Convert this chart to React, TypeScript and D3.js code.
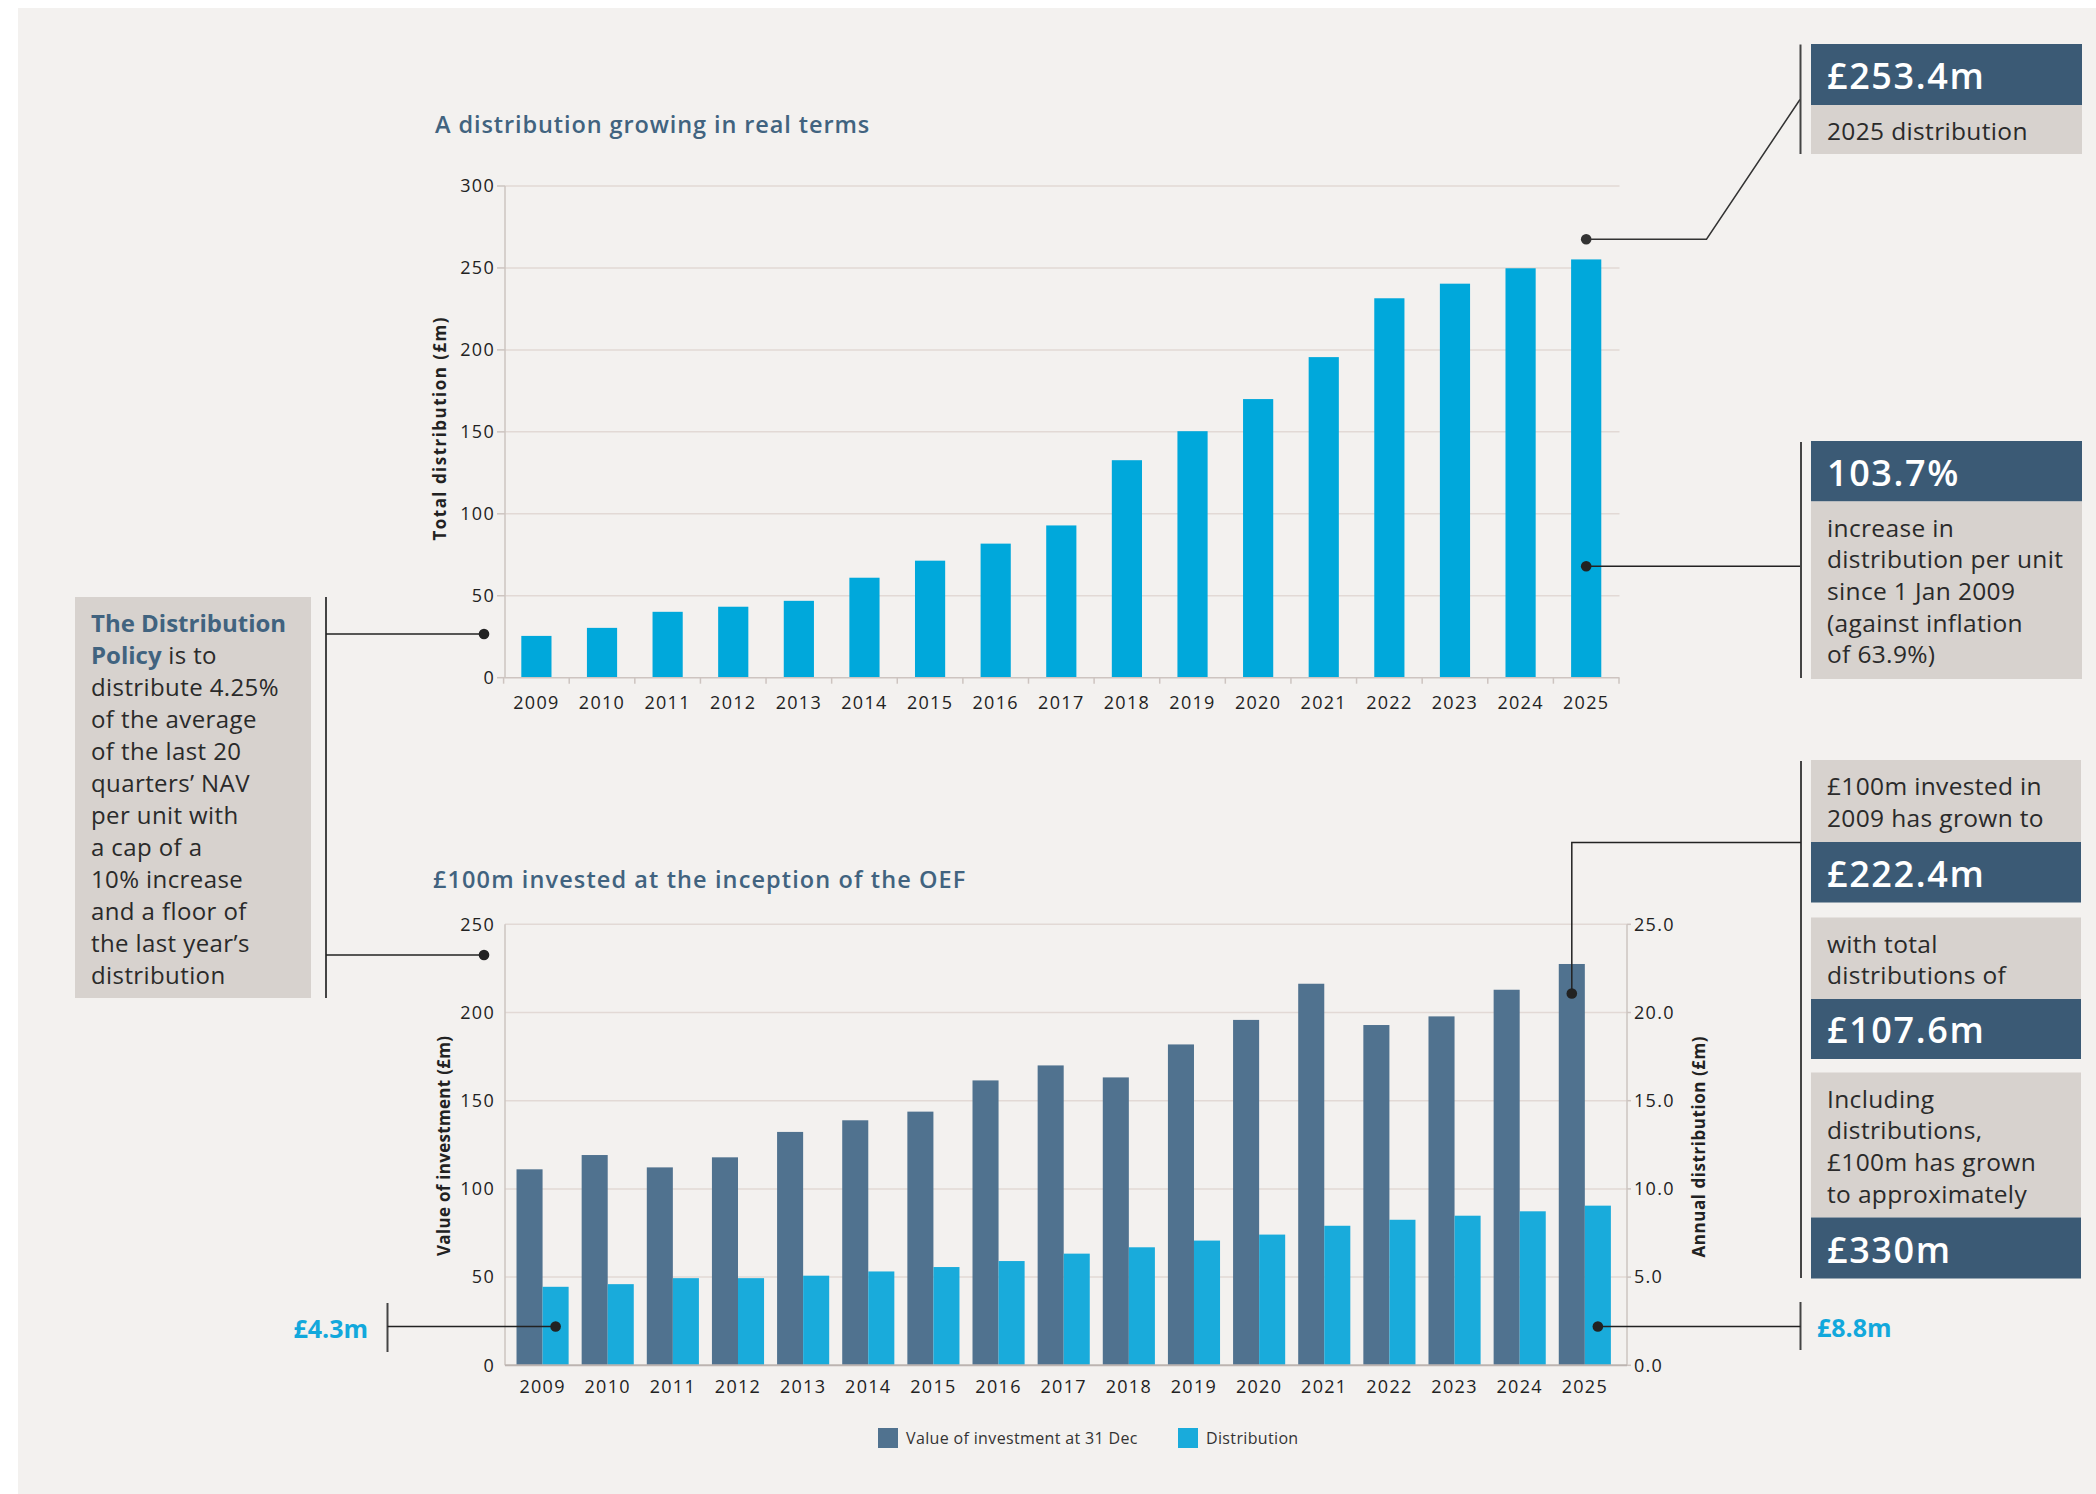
import React from 'react';
import * as d3 from 'd3';

const years = ['2009','2010','2011','2012','2013','2014','2015','2016','2017','2018','2019','2020','2021','2022','2023','2024','2025'];
const totalDistribution = [25.5, 30.4, 40.2, 43.3, 46.9, 61.0, 71.4, 81.8, 92.9, 132.7, 150.4, 170.0, 195.6, 231.5, 240.4, 249.8, 255.2];
const investmentValue = [111.1, 119.2, 112.2, 117.9, 132.3, 138.9, 143.8, 161.5, 170.0, 163.2, 181.9, 195.8, 216.3, 192.9, 197.8, 212.9, 227.5];
const annualDistribution = [4.45, 4.6, 4.94, 4.94, 5.08, 5.32, 5.57, 5.91, 6.33, 6.69, 7.07, 7.41, 7.91, 8.25, 8.48, 8.73, 9.05];
const topTicks = [0, 50, 100, 150, 200, 250, 300];
const leftTicks = [0, 50, 100, 150, 200, 250];
const rightTicks = [0, 5, 10, 15, 20, 25];
const seriesKeys = ['value', 'distribution'];
const legendLabels = ['Value of investment at 31 Dec', 'Distribution'];
const policyLines = ['distribute 4.25%', 'of the average', 'of the last 20', 'quarters\u2019 NAV', 'per unit with', 'a cap of a', '10% increase', 'and a floor of', 'the last year\u2019s', 'distribution'];

const FONT = '"Open Sans", "Noto Sans", sans-serif';
const C = {
  panel: '#f3f1ef',
  light: '#d7d2ce',
  dark: '#3b5a75',
  title: '#41637f',
  topBar: '#00a8db',
  darkBar: '#50728f',
  lightBar: '#19abdb',
  grid: '#e2d9d5',
  axis: '#cdc4c0',
  text: '#222222',
  accent: '#12a8dc',
  line: '#222222',
};

function Callout({ x, y, w, rows }: { x: number; y: number; w: number; rows: { kind: 'dark' | 'light'; h: number; lines: string[] }[] }) {
  let cy = y;
  return (
    <g>
      {rows.map((r, i) => {
        const top = cy;
        cy += r.h;
        const isDark = r.kind === 'dark';
        return (
          <g key={i}>
            <rect x={x} y={top} width={w} height={r.h} fill={isDark ? C.dark : C.light} />
            {r.lines.map((t, j) => (
              <text
                key={j}
                x={x + 16}
                y={isDark ? top + r.h - 16 : top + 35 + j * 31.7}
                fontFamily={FONT}
                fontSize={isDark ? 36 : 24.5}
                fontWeight={isDark ? 600 : 400}
                letterSpacing={isDark ? 1.6 : 0.35}
                fill={isDark ? '#ffffff' : '#2a2a2a'}
              >
                {t}
              </text>
            ))}
          </g>
        );
      })}
    </g>
  );
}

export default function App() {
  const xTop = d3.scaleBand<string>().domain(years).range([503.6, 1619]).paddingInner(0.54).paddingOuter(0.27);
  const yTop = d3.scaleLinear().domain([0, 300]).range([677.7, 186]);
  const topStep = xTop.step();
  const topBoundaries = years.map((yr) => (xTop(yr) as number) + xTop.bandwidth() / 2 - topStep / 2).concat([
    (xTop(years[years.length - 1]) as number) + xTop.bandwidth() / 2 + topStep / 2,
  ]);

  const xBot = d3.scaleBand<string>().domain(years).range([510, 1617.4]).paddingInner(0.2).paddingOuter(0.1);
  const xSub = d3.scaleBand<string>().domain(seriesKeys).range([0, xBot.bandwidth()]);
  const yLeft = d3.scaleLinear().domain([0, 250]).range([1365.3, 924.3]);
  const yRight = d3.scaleLinear().domain([0, 25]).range([1365.3, 924.3]);
  const fmt1 = d3.format('.1f');

  const topLeft = 505;
  const topRight = 1619.5;
  const botLeft = 505;
  const botRight = 1627;

  const last = years[years.length - 1];
  const first = years[0];
  const topCenterLast = (xTop(last) as number) + xTop.bandwidth() / 2;
  const distCenter = (yr: string) => (xBot(yr) as number) + (xSub('distribution') as number) + xSub.bandwidth() / 2;
  const valueCenter = (yr: string) => (xBot(yr) as number) + (xSub('value') as number) + xSub.bandwidth() / 2;

  const tickStyle = { fontFamily: FONT, fontSize: 18, fill: C.text, letterSpacing: 1.3 } as const;
  const axisTitleStyle = { fontFamily: FONT, fontSize: 17, fontWeight: 700, fill: C.text } as const;

  return (
    <svg width={2096} height={1494} style={{ position: 'absolute', left: 0, top: 0, display: 'block' }}>
      <rect x={0} y={0} width={2096} height={1494} fill="#ffffff" />
      <rect x={18} y={8} width={2078} height={1486} fill={C.panel} />

      {/* ===== Top chart ===== */}
      <text x={435} y={133} fontFamily={FONT} fontSize={23.5} fontWeight={600} fill={C.title} letterSpacing={0.9}>
        A distribution growing in real terms
      </text>
      {topTicks.filter((t) => t > 0).map((t) => (
        <line key={t} x1={topLeft} x2={topRight} y1={yTop(t)} y2={yTop(t)} stroke={C.grid} strokeWidth={1.5} />
      ))}
      {topTicks.map((t) => (
        <g key={'tl' + t}>
          <line x1={497} x2={topLeft} y1={yTop(t)} y2={yTop(t)} stroke={C.axis} strokeWidth={1.5} />
          <text x={495} y={yTop(t)} dy="0.35em" textAnchor="end" {...tickStyle}>
            {t}
          </text>
        </g>
      ))}
      {years.map((yr, i) => (
        <rect key={yr} x={xTop(yr)} y={yTop(totalDistribution[i])} width={xTop.bandwidth()} height={yTop(0) - yTop(totalDistribution[i])} fill={C.topBar} />
      ))}
      <line x1={topLeft} x2={topLeft} y1={yTop(300)} y2={yTop(0)} stroke={C.axis} strokeWidth={1.5} />
      <line x1={topLeft} x2={topRight} y1={yTop(0)} y2={yTop(0)} stroke={C.axis} strokeWidth={1.5} />
      {topBoundaries.map((bx, i) => (
        <line key={'tb' + i} x1={bx} x2={bx} y1={yTop(0)} y2={yTop(0) + 6} stroke={C.axis} strokeWidth={1.5} />
      ))}
      {years.map((yr) => (
        <text key={'yt' + yr} x={(xTop(yr) as number) + xTop.bandwidth() / 2} y={709} textAnchor="middle" {...tickStyle}>
          {yr}
        </text>
      ))}
      <text transform={`translate(446, 429) rotate(-90)`} textAnchor="middle" textLength={223} lengthAdjust="spacing" {...axisTitleStyle}>
        Total distribution (£m)
      </text>

      {/* ===== Bottom chart ===== */}
      <text x={433} y={888} fontFamily={FONT} fontSize={23.5} fontWeight={600} fill={C.title} letterSpacing={1.1}>
        £100m invested at the inception of the OEF
      </text>
      {leftTicks.filter((t) => t > 0).map((t) => (
        <line key={'bg' + t} x1={botLeft} x2={botRight} y1={yLeft(t)} y2={yLeft(t)} stroke={C.grid} strokeWidth={1.5} />
      ))}
      {leftTicks.map((t) => (
        <text key={'lt' + t} x={495} y={yLeft(t)} dy="0.35em" textAnchor="end" {...tickStyle}>
          {t}
        </text>
      ))}
      {rightTicks.map((t) => (
        <g key={'rt' + t}>
          <line x1={botRight} x2={botRight + 4} y1={yRight(t)} y2={yRight(t)} stroke={C.axis} strokeWidth={1.5} />
          <text x={1634} y={yRight(t)} dy="0.35em" textAnchor="start" {...tickStyle}>
            {fmt1(t)}
          </text>
        </g>
      ))}
      {years.map((yr, i) => (
        <g key={'bb' + yr} transform={`translate(${xBot(yr)},0)`}>
          <rect x={xSub('value')} y={yLeft(investmentValue[i])} width={xSub.bandwidth()} height={yLeft(0) - yLeft(investmentValue[i])} fill={C.darkBar} />
          <rect x={xSub('distribution')} y={yRight(annualDistribution[i])} width={xSub.bandwidth()} height={yRight(0) - yRight(annualDistribution[i])} fill={C.lightBar} />
        </g>
      ))}
      <line x1={botLeft} x2={botLeft} y1={yLeft(250)} y2={yLeft(0)} stroke={C.axis} strokeWidth={1.5} />
      <line x1={botRight} x2={botRight} y1={yRight(25)} y2={yRight(0)} stroke={C.axis} strokeWidth={1.5} />
      <line x1={botLeft} x2={botRight} y1={yLeft(0)} y2={yLeft(0)} stroke="#bcb4b1" strokeWidth={2} />
      {years.map((yr) => (
        <text key={'yb' + yr} x={(xBot(yr) as number) + xBot.bandwidth() / 2} y={1393} textAnchor="middle" {...tickStyle}>
          {yr}
        </text>
      ))}
      <text transform={`translate(450, 1146) rotate(-90)`} textAnchor="middle" textLength={220} lengthAdjust="spacing" {...axisTitleStyle}>
        Value of investment (£m)
      </text>
      <text transform={`translate(1705, 1147) rotate(-90)`} textAnchor="middle" textLength={221} lengthAdjust="spacing" {...axisTitleStyle}>
        Annual distribution (£m)
      </text>

      {/* legend */}
      {legendLabels.map((lab, i) => {
        const lx = i === 0 ? 878 : 1178;
        return (
          <g key={lab}>
            <rect x={lx} y={1428} width={20} height={20} fill={i === 0 ? C.darkBar : C.lightBar} />
            <text x={lx + 28} y={1438} dy="0.35em" fontFamily={FONT} fontSize={16} letterSpacing={0.35} fill="#333">
              {lab}
            </text>
          </g>
        );
      })}

      {/* ===== Left policy box ===== */}
      <rect x={75} y={597} width={236} height={401} fill={C.light} />
      <text x={91} y={631.7} fontFamily={FONT} fontSize={24} fontWeight={700} fill={C.title}>
        The Distribution
      </text>
      <text x={91} y={663.7} fontFamily={FONT} fontSize={24} fill="#2a2a2a" letterSpacing={0.4}>
        <tspan fontWeight={700} fill={C.title} letterSpacing={0}>Policy</tspan>
        <tspan> is to</tspan>
      </text>
      {policyLines.map((t, i) => (
        <text key={'pl' + i} x={91} y={695.7 + i * 32} fontFamily={FONT} fontSize={24} letterSpacing={0.4} fill="#2a2a2a">
          {t}
        </text>
      ))}
      <line x1={326} x2={326} y1={597} y2={998} stroke="#444" strokeWidth={2} />
      <line x1={326} x2={484} y1={634} y2={634} stroke={C.line} strokeWidth={1.5} />
      <circle cx={484} cy={634} r={5.3} fill={C.line} />
      <line x1={326} x2={484} y1={955} y2={955} stroke={C.line} strokeWidth={1.5} />
      <circle cx={484} cy={955} r={5.3} fill={C.line} />

      {/* ===== Top right callouts ===== */}
      <circle cx={topCenterLast} cy={yTop(267.5)} r={5.3} fill="#333" />
      <polyline points={`${topCenterLast},${yTop(267.5)} 1706.5,${yTop(267.5)} 1800,99.5`} fill="none" stroke="#333" strokeWidth={1.5} />
      <line x1={1800.5} x2={1800.5} y1={44.5} y2={154} stroke="#444" strokeWidth={2} />
      <Callout x={1811} y={44} w={271} rows={[
        { kind: 'dark', h: 61, lines: ['£253.4m'] },
        { kind: 'light', h: 49, lines: ['2025 distribution'] },
      ]} />

      <circle cx={topCenterLast} cy={yTop(68)} r={5.3} fill={C.line} />
      <line x1={topCenterLast} x2={1801} y1={yTop(68)} y2={yTop(68)} stroke={C.line} strokeWidth={1.5} />
      <line x1={1801} x2={1801} y1={442} y2={678} stroke="#444" strokeWidth={2} />
      <Callout x={1811} y={441} w={271} rows={[
        { kind: 'dark', h: 60.5, lines: ['103.7%'] },
        { kind: 'light', h: 177.5, lines: ['increase in', 'distribution per unit', 'since 1 Jan 2009', '(against inflation', 'of 63.9%)'] },
      ]} />

      {/* ===== Bottom right callouts ===== */}
      <line x1={1801} x2={1801} y1={761} y2={1278} stroke="#444" strokeWidth={2} />
      <polyline points={`1801,842.5 ${valueCenter(last)},842.5 ${valueCenter(last)},${yLeft(210.8)}`} fill="none" stroke={C.line} strokeWidth={1.5} />
      <circle cx={valueCenter(last)} cy={yLeft(210.8)} r={5.3} fill={C.line} />
      <Callout x={1811} y={760} w={270} rows={[
        { kind: 'light', h: 82, lines: ['£100m invested in', '2009 has grown to'] },
        { kind: 'dark', h: 60.5, lines: ['£222.4m'] },
      ]} />
      <Callout x={1811} y={917.5} w={270} rows={[
        { kind: 'light', h: 81.5, lines: ['with total', 'distributions of'] },
        { kind: 'dark', h: 60, lines: ['£107.6m'] },
      ]} />
      <Callout x={1811} y={1072.5} w={270} rows={[
        { kind: 'light', h: 145, lines: ['Including', 'distributions,', '£100m has grown', 'to approximately'] },
        { kind: 'dark', h: 61, lines: ['£330m'] },
      ]} />

      {/* £8.8m */}
      <line x1={1800.5} x2={1800.5} y1={1302} y2={1350} stroke="#444" strokeWidth={2} />
      <line x1={distCenter(last)} x2={1800.5} y1={yRight(2.2)} y2={yRight(2.2)} stroke={C.line} strokeWidth={1.5} />
      <circle cx={distCenter(last)} cy={yRight(2.2)} r={5.3} fill={C.line} />
      <text x={1817} y={1337} fontFamily={FONT} fontSize={25} fontWeight={700} fill={C.accent}>
        £8.8m
      </text>

      {/* £4.3m */}
      <line x1={387.5} x2={387.5} y1={1303} y2={1352} stroke="#444" strokeWidth={2} />
      <line x1={387.5} x2={distCenter(first)} y1={yRight(2.2)} y2={yRight(2.2)} stroke={C.line} strokeWidth={1.5} />
      <circle cx={distCenter(first)} cy={yRight(2.2)} r={5.3} fill={C.line} />
      <text x={368} y={1338} textAnchor="end" fontFamily={FONT} fontSize={25} fontWeight={700} fill={C.accent}>
        £4.3m
      </text>
    </svg>
  );
}
